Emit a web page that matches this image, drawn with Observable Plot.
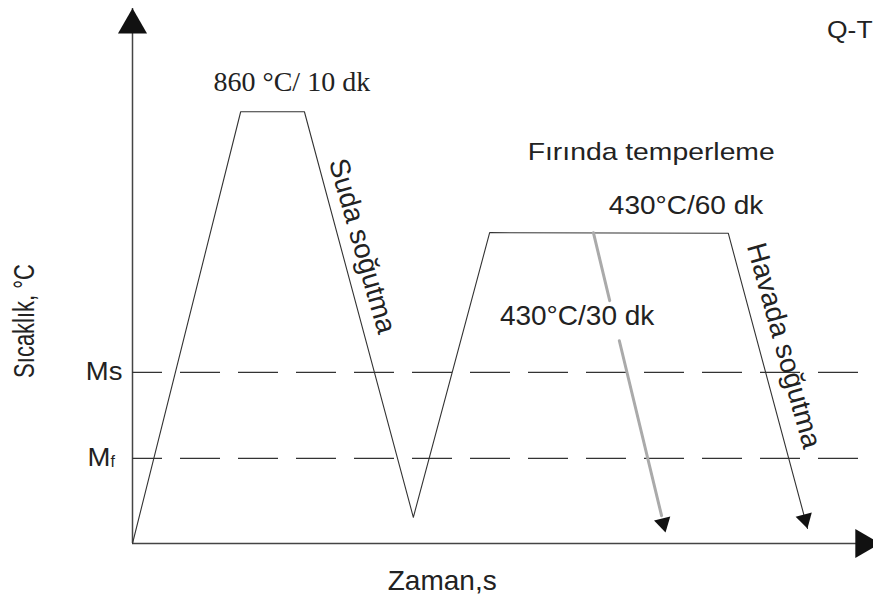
<!DOCTYPE html>
<html>
<head>
<meta charset="utf-8">
<script src="https://cdn.jsdelivr.net/npm/d3@7"></script>
<script src="https://cdn.jsdelivr.net/npm/@observablehq/plot@0.6"></script>
<style>
  html, body { margin: 0; padding: 0; background: #fff; }
  svg { display: block; }
</style>
</head>
<body>
<div id="chart"></div>
<script>
// Schematic Q-T heat treatment cycle (arbitrary time / temperature units, 0–100)
const profileTime = [0, 14.6, 23.2, 37.9, 48.2, 80.4, 91.1];
const profileTemp = [0, 80.7, 80.7, 4.9, 58.1, 58.0, 2.8];

// short (30 dk) tempering cooling path, drawn in gray with a gap for its label
const shortTime = [62.2, 64.4, 65.7, 71.4];
const shortTemp = [58.1, 45.4, 37.9, 5.2];
const shortSeg  = [1, 1, 2, 2];

// martensite start / finish levels
const levelNames = ["Ms", "Mf"];
const levelTemp = [32.0, 15.9];
const dashStart = 0, dashEnd = 98.0;

// arrowheads (axis ends + cooling path ends)
const headTime  = [0, 98.68, 90.75, 71.63];
const headTemp  = [96.9, 0, 4.54, 3.79];
const headAngle = [0, 90, 165, 166.5];
const headR     = [10.8, 10.8, 6.2, 6.2];

// annotations
const labelText   = ["860 °C/ 10 dk", "Fırında temperleme", "430°C/60 dk", "430°C/30 dk", "Q-T"];
const labelTime   = [21.5, 70.0, 74.7, 60.0, 96.8];
const labelTemp   = [86.2, 73.1, 63.0, 42.6, 95.8];
const labelSize   = [28, 24, 25, 28, 23];
const labelFont   = ["Liberation Serif", "Liberation Sans", "Liberation Sans", "Liberation Sans", "Liberation Sans"];
const labelStretch = [1.0, 1.18, 1.12, 1.0, 1.15];

const slopeText  = ["Suda soğutma", "Havada soğutma"];
const slopeTime  = [31.0, 87.9];
const slopeTemp  = [55.6, 37.0];
const slopeAngle = [74, 74.4];

const xTitle = "Zaman,s";
const yTitle = "Sıcaklık, °C";

const profile = profileTime.map((t, i) => ({t, T: profileTemp[i]}));
const short = shortTime.map((t, i) => ({t, T: shortTemp[i], s: shortSeg[i]}));
const levels = levelNames.map((n, i) => ({n, T: levelTemp[i]}));
const heads = headTime.map((t, i) => ({t, T: headTemp[i], a: headAngle[i], r: headR[i]}));
const labels = labelText.map((s, i) => ({s, t: labelTime[i], T: labelTemp[i], size: labelSize[i], font: labelFont[i], k: labelStretch[i]}));
const slopes = slopeText.map((s, i) => ({s, t: slopeTime[i], T: slopeTemp[i], a: slopeAngle[i]}));

const ink = "#222";
const marks = [
  // axes
  Plot.ruleX([0], {y1: 0, y2: 100, stroke: "#444", strokeWidth: 1.5}),
  Plot.ruleY([0], {x1: 0, x2: 100, stroke: "#444", strokeWidth: 1.5}),
  // Ms / Mf dashed levels
  Plot.ruleY(levels, {y: "T", x1: dashStart, x2: dashEnd, stroke: "#333", strokeWidth: 1.2,
    strokeDasharray: "40,18", strokeDashoffset: 10}),
  // main cycle
  Plot.line(profile, {x: "t", y: "T", stroke: "#333", strokeWidth: 1.1}),
  // short tempering cooling
  Plot.line(short, {x: "t", y: "T", z: "s", stroke: "#aaa", strokeWidth: 3}),
  // arrowheads
  Plot.dot(heads, {x: "t", y: "T", r: "r", rotate: "a", symbol: "triangle", fill: "#111", stroke: "none"}),
  // Ms label
  Plot.text(levels.slice(0, 1), {x: 0, y: "T", text: "n", textAnchor: "end", dx: -10,
    fontFamily: "Liberation Sans", fontSize: 25, fill: ink}),
  // Mf label: M + small f
  Plot.text(levels.slice(1), {x: 0, y: "T", text: d => d.n[0], textAnchor: "end", dx: -22,
    fontFamily: "Liberation Sans", fontSize: 25, fill: ink}),
  Plot.text(levels.slice(1), {x: 0, y: "T", text: d => d.n[1], textAnchor: "start", dx: -22, dy: 3,
    fontFamily: "Liberation Sans", fontSize: 16, fill: ink}),
  // rotated slope labels
  Plot.text(slopes, {x: "t", y: "T", text: "s", rotate: "a", fontFamily: "Liberation Sans", fontSize: 28, fill: ink}),
  // axis titles
  Plot.text([xTitle], {x: 41.8, y: 0, text: d => d, dy: 38, fontFamily: "Liberation Sans", fontSize: 28, fill: ink}),
  Plot.text([yTitle], {x: 0, y: 41.6, text: d => d, dx: -108, rotate: -90, fontFamily: "Liberation Sans", fontSize: 22, fill: ink})
];
labels.forEach(l => {
  marks.push(Plot.text([l], {x: "t", y: "T", text: "s", fontFamily: l.font, fontSize: l.size, fill: ink}));
});

const svg = Plot.plot({
  width: 873,
  height: 600,
  marginLeft: 132,
  marginRight: 0,
  marginTop: 8,
  marginBottom: 57,
  x: {domain: [0, 100], axis: null},
  y: {domain: [0, 100], axis: null},
  r: {type: "identity"},
  style: {background: "#fff", overflow: "hidden"},
  marks
});

// horizontal widening of label glyphs to match the reference's stretched lettering
const stretch = new Map(labels.map(l => [l.s, `scale(${l.k},1)`]));
stretch.set("Ms", "scale(1.1,1)");
stretch.set("M", "scale(1.1,1)");
stretch.set(yTitle, "scale(1,1.3)");
svg.querySelectorAll("text").forEach(t => {
  const s = stretch.get(t.textContent);
  if (s) t.setAttribute("transform", (t.getAttribute("transform") || "") + " " + s);
});

document.getElementById("chart").appendChild(svg);
</script>
</body>
</html>
